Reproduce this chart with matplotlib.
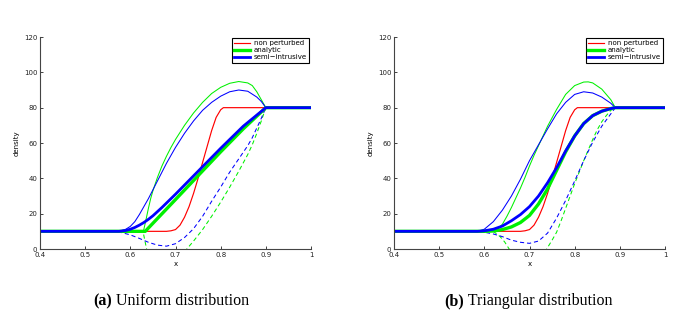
import matplotlib
matplotlib.use("Agg")
import matplotlib.pyplot as plt

# ---------------- data ----------------
# common non perturbed solution
x_red = [0.4, 0.68, 0.69, 0.70, 0.71, 0.72, 0.73, 0.74, 0.75, 0.76, 0.77, 0.78, 0.79, 0.80, 0.806, 1.0]
y_red = [10, 10, 10.3, 11, 13.5, 18, 24, 31.5, 40, 49, 58, 67, 74.5, 78.8, 80, 80]

# panel (a) uniform distribution
a_green_mean_x = [0.4, 0.633, 0.70, 0.75, 0.80, 0.85, 0.90, 1.0]
a_green_mean_y = [10, 10, 28, 41.5, 55, 68, 80, 80]
a_blue_mean_x = [0.4, 0.575, 0.59, 0.60, 0.61, 0.62, 0.63, 0.64, 0.65, 0.67, 0.70, 0.75, 0.80, 0.85, 0.90, 1.0]
a_blue_mean_y = [10, 10, 10.5, 11.2, 12.2, 13.5, 15, 16.8, 18.8, 23.5, 31, 44, 57, 69.5, 80, 80]
a_green_up_x = [0.4, 0.629, 0.635, 0.64, 0.645, 0.65, 0.66, 0.67, 0.68, 0.69, 0.70, 0.72, 0.74, 0.76, 0.78, 0.80, 0.82, 0.84, 0.86, 0.87, 0.88, 0.89, 0.90, 1.0]
a_green_up_y = [10, 10, 17, 23, 28.5, 33, 40.5, 47, 52.5, 57.5, 62, 70, 77, 83, 88, 91.5, 93.8, 94.8, 94, 92.5, 89, 84.5, 80, 80]
a_blue_up_x = [0.4, 0.57, 0.58, 0.59, 0.60, 0.61, 0.62, 0.63, 0.64, 0.65, 0.66, 0.68, 0.70, 0.72, 0.74, 0.76, 0.78, 0.80, 0.82, 0.84, 0.86, 0.88, 0.89, 0.90, 1.0]
a_blue_up_y = [10, 10, 10.4, 11.2, 12.8, 15.5, 19.5, 24, 28.5, 33.5, 38.5, 48.5, 57.5, 65.5, 72.5, 78.5, 83, 86.5, 89, 90, 89.3, 86, 83.5, 80, 80]
a_blue_lo_x = [0.4, 0.57, 0.60, 0.62, 0.64, 0.66, 0.68, 0.70, 0.72, 0.74, 0.76, 0.78, 0.80, 0.82, 0.84, 0.86, 0.87, 0.88, 0.89, 0.90, 1.0]
a_blue_lo_y = [10, 10, 8, 6, 3.8, 2.2, 1.6, 3, 6.5, 11.5, 18.5, 27, 35, 43.5, 51, 58.5, 63, 68.5, 74, 80, 80]
a_green_lo_x = [0.4, 0.628, 0.632, 0.636, 0.645, 0.66, 0.69, 0.71, 0.725, 0.74, 0.76, 0.78, 0.80, 0.82, 0.84, 0.86, 0.87, 0.88, 0.89, 0.90, 1.0]
a_green_lo_y = [10, 10, 5, 0, -10, -22, -25, -15, 0, 4.5, 11, 18.5, 26.5, 35, 44, 53.5, 59, 65.5, 72.5, 80, 80]

# panel (b) triangular distribution
b_green_mean_x = [0.4, 0.60, 0.62, 0.64, 0.66, 0.68, 0.70, 0.72, 0.74, 0.76, 0.78, 0.80, 0.82, 0.84, 0.86, 0.88, 0.89, 1.0]
b_green_mean_y = [10, 10, 10.2, 11, 12.5, 15, 19, 25.5, 34, 44.5, 55, 64, 71, 75.5, 78, 79.5, 80, 80]
b_blue_mean_x = [0.4, 0.585, 0.60, 0.62, 0.64, 0.66, 0.68, 0.70, 0.72, 0.74, 0.76, 0.78, 0.80, 0.82, 0.84, 0.86, 0.88, 0.89, 1.0]
b_blue_mean_y = [10, 10, 10.3, 11.2, 13, 16, 19.5, 24, 30, 37.5, 46, 55.5, 64, 71, 75.5, 78, 79.5, 80, 80]
b_green_up_x = [0.4, 0.625, 0.64, 0.65, 0.66, 0.67, 0.68, 0.69, 0.70, 0.71, 0.72, 0.74, 0.76, 0.78, 0.80, 0.82, 0.83, 0.84, 0.86, 0.88, 0.89, 1.0]
b_green_up_y = [10, 10, 14, 18.5, 23.5, 29, 34.5, 40.5, 47, 53, 58.5, 69.5, 79, 87.5, 92.5, 94.5, 94.6, 94, 90.5, 84.5, 80, 80]
b_blue_up_x = [0.4, 0.585, 0.60, 0.62, 0.64, 0.66, 0.68, 0.70, 0.71, 0.72, 0.74, 0.76, 0.78, 0.80, 0.82, 0.84, 0.86, 0.88, 0.89, 1.0]
b_blue_up_y = [10, 10, 11.2, 15.5, 22, 30, 39.5, 50, 54.5, 59, 68, 76.5, 83, 87.5, 89, 88.3, 86, 82.5, 80, 80]
b_blue_lo_x = [0.4, 0.585, 0.60, 0.62, 0.64, 0.66, 0.68, 0.70, 0.72, 0.74, 0.76, 0.78, 0.80, 0.82, 0.84, 0.86, 0.88, 0.89, 1.0]
b_blue_lo_y = [10, 10, 9.5, 8.5, 7, 5, 3.8, 3.2, 4.5, 9, 17.5, 27.5, 38.5, 50, 60.5, 69.5, 76.5, 80, 80]
b_green_lo_x = [0.4, 0.62, 0.635, 0.645, 0.655, 0.67, 0.70, 0.72, 0.738, 0.75, 0.76, 0.77, 0.78, 0.79, 0.80, 0.81, 0.82, 0.83, 0.84, 0.85, 0.86, 0.87, 0.88, 0.89, 1.0]
b_green_lo_y = [10, 10, 7, 4, 0, -6, -12, -8, 0, 5, 9.5, 16, 23, 30, 37, 43.5, 50, 56, 62, 67.5, 72, 75.5, 78.5, 80, 80]

x_ticks = [0.4, 0.5, 0.6, 0.7, 0.8, 0.9, 1.0]
x_tick_labels = ["0.4", "0.5", "0.6", "0.7", "0.8", "0.9", "1"]
y_ticks = [0, 20, 40, 60, 80, 100, 120]
legend_labels = ["non perturbed", "analytic", "semi\u2212intrusive"]
captions = [("(a)", " Uniform distribution"), ("(b)", " Triangular distribution")]

# ---------------- figure ----------------
W, H = 695, 320
fig = plt.figure(figsize=(W / 100, H / 100), dpi=100)
plt.rcParams['font.family'] = ['DejaVu Sans']

RED, GREEN, BLUE = "#ff0000", "#00f000", "#0000ff"
thin, thick = 0.75, 2.0
dash = (0, (4, 2.8))

panels = [
    dict(left=40, gm=(a_green_mean_x, a_green_mean_y), bm=(a_blue_mean_x, a_blue_mean_y),
         gu=(a_green_up_x, a_green_up_y), bu=(a_blue_up_x, a_blue_up_y),
         bl=(a_blue_lo_x, a_blue_lo_y), gl=(a_green_lo_x, a_green_lo_y), cx=171),
    dict(left=394, gm=(b_green_mean_x, b_green_mean_y), bm=(b_blue_mean_x, b_blue_mean_y),
         gu=(b_green_up_x, b_green_up_y), bu=(b_blue_up_x, b_blue_up_y),
         bl=(b_blue_lo_x, b_blue_lo_y), gl=(b_green_lo_x, b_green_lo_y), cx=528),
]

cap_texts = []
for i, p in enumerate(panels):
    ax = fig.add_axes([p['left'] / W, (H - 249) / H, 271 / W, 212 / H])
    ax.plot(*p['gl'], color=GREEN, lw=thin, ls=dash)
    ax.plot(*p['bl'], color=BLUE, lw=thin, ls=dash)
    ax.plot(*p['gu'], color=GREEN, lw=thin)
    ax.plot(*p['bu'], color=BLUE, lw=thin)
    l1, = ax.plot(x_red, y_red, color=RED, lw=thin + 0.1)
    l2, = ax.plot(*p['gm'], color=GREEN, lw=thick + 0.4)
    l3, = ax.plot(*p['bm'], color=BLUE, lw=thick)
    ax.set_xlim(0.4, 1.0)
    ax.set_ylim(0, 120)
    ax.set_xticks(x_ticks)
    ax.set_xticklabels(x_tick_labels)
    ax.set_yticks(y_ticks)
    for s in ['top', 'right']:
        ax.spines[s].set_visible(False)
    for s in ['left', 'bottom']:
        ax.spines[s].set_color('#444444')
        ax.spines[s].set_linewidth(0.8)
    ax.tick_params(direction='in', length=2.5, width=0.6, labelsize=5, pad=2, colors='#222222')
    ax.set_xlabel("x", fontsize=5, labelpad=2)
    ax.set_ylabel("density", fontsize=5, labelpad=3)
    leg = ax.legend([l1, l2, l3], legend_labels, loc='upper right', bbox_to_anchor=(0.992, 0.994),
                    fontsize=5, fancybox=False, framealpha=1, edgecolor='black',
                    handlelength=2.3, handletextpad=0.5, borderpad=0.3, labelspacing=0.15,
                    borderaxespad=0)
    leg.get_frame().set_linewidth(0.8)
    # caption
    bold, rest = captions[i]
    t1 = fig.text(0, 1 - 305 / H, bold, fontsize=11.5, fontweight='bold',
                  family='Liberation Serif', ha='left', va='baseline')
    t2 = fig.text(0, 1 - 305 / H, rest, fontsize=11.5,
                  family='Liberation Serif', ha='left', va='baseline')
    cap_texts.append((t1, t2, p['cx']))

fig.canvas.draw()
r = fig.canvas.get_renderer()
for t1, t2, cx in cap_texts:
    w1 = t1.get_window_extent(r).width
    w2 = t2.get_window_extent(r).width
    x0 = cx - (w1 + w2) / 2
    t1.set_x(x0 / W)
    t2.set_x((x0 + w1) / W)

fig.savefig("out.png", dpi=100)
